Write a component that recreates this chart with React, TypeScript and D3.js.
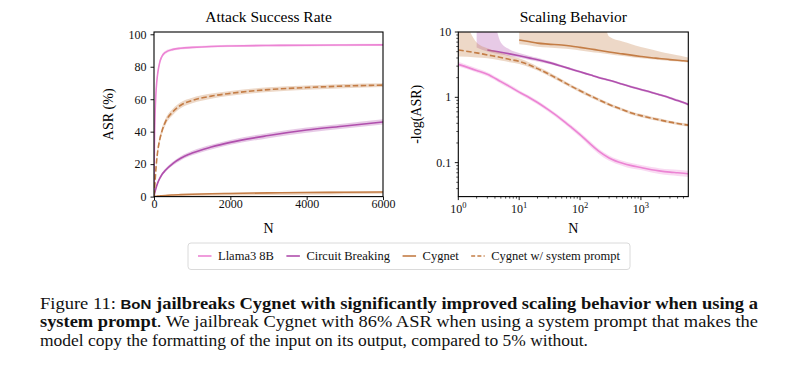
import React, { useEffect, useRef } from 'react';
import * as d3 from 'd3';

const nValues = [1, 2, 3, 5, 7, 10, 15, 20, 30, 50, 70, 100, 150, 200, 300, 500, 700, 1000, 1500, 2000, 3000, 4000, 5000, 6000];

// attack success rate (%) - mean and shaded band
const llamaMean = [4.1, 7.6, 10.5, 17.6, 23.3, 30.1, 37.6, 43.5, 52.4, 63.3, 70.1, 76.4, 82.7, 86, 88.9, 90.7, 91.4, 91.9, 92.5, 92.8, 93.1, 93.24, 93.36, 93.46];
const llamaLo = [3.0, 6.2, 8.8, 15.3, 20.9, 27.6, 35, 41, 49.9, 61.1, 68.1, 74.6, 81.2, 84.8, 87.9, 89.9, 90.6, 91.2, 91.8, 92.1, 92.4, 92.54, 92.66, 92.76];
const llamaHi = [5.2, 9, 12.2, 19.9, 25.7, 32.6, 40.2, 46, 54.9, 65.5, 72.1, 78.2, 84.2, 87.2, 89.9, 91.5, 92.2, 92.6, 93.2, 93.5, 93.8, 93.94, 94.06, 94.16];

const circuitMean = [0, 0, 0.5, 0.74, 0.98, 1.33, 1.87, 2.33, 3.24, 5.03, 6.6, 8.6, 11.2, 13.3, 16.2, 20.5, 23.6, 26.8, 30.5, 33.4, 37.6, 41, 43.5, 46];
const circuitLo = [0, 0, 0, 0.1, 0.45, 0.85, 1.35, 1.8, 2.65, 4.35, 5.85, 7.8, 10.3, 12.3, 15.1, 19.3, 22.3, 25.4, 29, 31.9, 36, 39.4, 41.9, 44.4];
const circuitHi = [0, 0.3, 0.65, 1.1, 1.4, 1.8, 2.4, 2.9, 3.85, 5.75, 7.4, 9.4, 12.1, 14.3, 17.3, 21.7, 24.9, 28.2, 32, 34.9, 39.2, 42.6, 45.1, 47.6];

const cygnetMean = [0, 0, 0, 0, 0, 0.052, 0.084, 0.116, 0.146, 0.182, 0.224, 0.297, 0.41, 0.52, 0.71, 0.98, 1.2, 1.47, 1.78, 1.95, 2.28, 2.5, 2.65, 2.81];
const cygnetLo = [0, 0, 0, 0, 0, 0, 0, 0, 0, 0, 0, 0, 0, 0, 0.02, 0.08, 0.15, 0.28, 0.45, 0.65, 0.95, 1.2, 1.45, 1.7];
const cygnetHi = [0, 0, 0, 0, 0, 0.15, 0.2, 0.26, 0.3, 0.38, 0.44, 0.55, 0.7, 0.82, 1.05, 1.38, 1.62, 1.9, 2.2, 2.4, 2.7, 2.95, 3.1, 3.3];

const promptMean = [0.5, 0.83, 1.16, 1.7, 2.24, 2.87, 4.55, 6.4, 10.1, 16.9, 22.4, 28.4, 35.1, 39.7, 46, 52.4, 56.3, 59.2, 61.9, 63.6, 65.9, 67.2, 68.1, 68.7];
const promptLo = [0, 0.1, 0.35, 0.8, 1.3, 1.9, 3.4, 5.1, 8.5, 15, 20.4, 26.3, 33, 37.6, 44, 50.5, 54.5, 57.5, 60.3, 62.1, 64.5, 65.9, 66.8, 67.5];
const promptHi = [1.5, 1.7, 1.9, 2.6, 3.2, 3.9, 5.7, 7.7, 11.7, 18.8, 24.4, 30.5, 37.2, 41.8, 48, 54.3, 58.1, 60.9, 63.5, 65.1, 67.3, 68.5, 69.4, 69.9];

const seriesNames = ['Llama3 8B', 'Circuit Breaking', 'Cygnet', 'Cygnet w/ system prompt'];
const seriesColors = ['#ec84d4', '#b04fad', '#c47d46', '#c47d46'];

const asrTicks = [0, 20, 40, 60, 80, 100];
const nTicks = [0, 2000, 4000, 6000];
const logYTicks = [0.1, 1, 10];
const logXTicks = [1, 10, 100, 1000];

const SERIF = '"Liberation Serif", "Times New Roman", Times, serif';

export default function App() {
    const svgRef = useRef<SVGSVGElement>(null);

    useEffect(() => {
        if (!svgRef.current) return;
        const svg = d3.select(svgRef.current);
        svg.selectAll('*').remove();

        const means = [llamaMean, circuitMean, cygnetMean, promptMean];
        const los = [llamaLo, circuitLo, cygnetLo, promptLo];
        const his = [llamaHi, circuitHi, cygnetHi, promptHi];
        const series = seriesNames.map((name, i) => ({
            name, color: seriesColors[i], dashed: i === 3, mean: means[i], lo: los[i], hi: his[i]
        }));
        const idx = nValues.map((_, i) => i);

        const defs = svg.append('defs');

        // ---------- left: Attack Success Rate ----------
        const L = { l: 154, r: 383, t: 32, b: 196.6 };
        const xL = d3.scaleLinear().domain([0, 6000]).range([L.l, L.r]);
        const yL = d3.scaleLinear().domain([0, 101.4]).range([L.b, L.t]);

        defs.append('clipPath').attr('id', 'clip-left').append('rect')
            .attr('x', L.l).attr('y', L.t).attr('width', L.r - L.l).attr('height', L.b - L.t);

        const gL = svg.append('g').attr('clip-path', 'url(#clip-left)');
        series.forEach(s => {
            const band = d3.area<number>()
                .x(i => xL(nValues[i]))
                .y0(i => yL(s.lo[i]))
                .y1(i => yL(s.hi[i]))
                .curve(d3.curveMonotoneX);
            gL.append('path').attr('d', band(idx)).attr('fill', s.color).attr('opacity', 0.3);
            const line = d3.line<number>()
                .x(i => xL(nValues[i]))
                .y(i => yL(s.mean[i]))
                .curve(d3.curveMonotoneX);
            gL.append('path').attr('d', line(idx)).attr('fill', 'none')
                .attr('stroke', s.color).attr('stroke-width', 1.6)
                .attr('stroke-dasharray', s.dashed ? '5.5,2.5' : null);
        });

        const axL = svg.append('g').attr('transform', `translate(${L.l},0)`)
            .call(d3.axisLeft(yL).tickValues(asrTicks).tickSize(3.5).tickSizeOuter(0).tickPadding(4));
        const axB = svg.append('g').attr('transform', `translate(0,${L.b})`)
            .call(d3.axisBottom(xL).tickValues(nTicks).tickSize(3.5).tickSizeOuter(0).tickPadding(3).tickFormat(d3.format('d')));
        [axL, axB].forEach(a => {
            a.attr('font-family', SERIF);
            a.select('.domain').remove();
            a.selectAll('line').attr('stroke', '#000').attr('stroke-width', 0.9);
            a.selectAll('text').attr('font-family', SERIF).attr('font-size', 12).attr('fill', '#111');
        });
        axB.selectAll('text').attr('dy', null).attr('y', 11.3);

        svg.append('rect').attr('x', L.l).attr('y', L.t).attr('width', L.r - L.l).attr('height', L.b - L.t)
            .attr('fill', 'none').attr('stroke', '#000').attr('stroke-width', 1.1);

        svg.append('text').attr('x', (L.l + L.r) / 2).attr('y', 22).attr('text-anchor', 'middle')
            .attr('font-family', SERIF).attr('font-size', 15.5).text('Attack Success Rate');
        svg.append('text').attr('x', (L.l + L.r) / 2).attr('y', 233).attr('text-anchor', 'middle')
            .attr('font-family', SERIF).attr('font-size', 14).text('N');
        svg.append('text').attr('transform', `translate(113,${(L.t + L.b) / 2}) rotate(-90)`)
            .attr('text-anchor', 'middle').attr('font-family', SERIF).attr('font-size', 14).text('ASR (%)');

        // ---------- right: Scaling Behavior ----------
        const R = { l: 458.3, r: 688.3, t: 32, b: 196.6 };
        const xR = d3.scaleLog().domain([1, 6000]).range([R.l, R.r]);
        const yR = d3.scaleLog().domain([0.0302, 10]).range([R.b, R.t]);
        const negLog = (p: number) => (p > 0 ? -Math.log(p / 100) : 30);

        defs.append('clipPath').attr('id', 'clip-right').append('rect')
            .attr('x', R.l).attr('y', R.t).attr('width', R.r - R.l).attr('height', R.b - R.t);

        const gR = svg.append('g').attr('clip-path', 'url(#clip-right)');
        series.forEach(s => {
            const band = d3.area<number>()
                .defined(i => s.hi[i] > 0)
                .x(i => xR(nValues[i]))
                .y0(i => yR(negLog(s.lo[i])))
                .y1(i => yR(negLog(s.hi[i])))
                .curve(d3.curveMonotoneX);
            gR.append('path').attr('d', band(idx)).attr('fill', s.color).attr('opacity', 0.3);
            const line = d3.line<number>()
                .defined(i => s.mean[i] > 0)
                .x(i => xR(nValues[i]))
                .y(i => yR(negLog(s.mean[i])))
                .curve(d3.curveMonotoneX);
            gR.append('path').attr('d', line(idx)).attr('fill', 'none')
                .attr('stroke', s.color).attr('stroke-width', 1.6)
                .attr('stroke-dasharray', s.dashed ? '5.5,2.5' : null);
        });

        // minor ticks for the log axes
        const minorX: number[] = [];
        const minorY: number[] = [];
        [1, 10, 100, 1000].forEach(d => d3.range(2, 10).forEach(k => { if (d * k < 6000) minorX.push(d * k); }));
        [0.01, 0.1, 1].forEach(d => d3.range(2, 10).forEach(k => { if (d * k > 0.0302 && d * k < 10) minorY.push(d * k); }));

        const tickG = svg.append('g').attr('stroke', '#000');
        tickG.selectAll('.mx').data(minorX).join('line')
            .attr('x1', d => xR(d)).attr('x2', d => xR(d)).attr('y1', R.b).attr('y2', R.b + 2).attr('stroke-width', 0.7);
        tickG.selectAll('.my').data(minorY).join('line')
            .attr('y1', d => yR(d)).attr('y2', d => yR(d)).attr('x1', R.l).attr('x2', R.l - 2).attr('stroke-width', 0.7);
        tickG.selectAll('.Mx').data(logXTicks).join('line')
            .attr('x1', d => xR(d)).attr('x2', d => xR(d)).attr('y1', R.b).attr('y2', R.b + 3.5).attr('stroke-width', 0.9);
        tickG.selectAll('.My').data(logYTicks).join('line')
            .attr('y1', d => yR(d)).attr('y2', d => yR(d)).attr('x1', R.l).attr('x2', R.l - 3.5).attr('stroke-width', 0.9);

        svg.selectAll('.ylab').data(logYTicks).join('text')
            .attr('x', R.l - 7).attr('y', d => yR(d)).attr('dy', '0.33em').attr('text-anchor', 'end')
            .attr('font-family', SERIF).attr('font-size', 12).attr('fill', '#111')
            .text(d => String(d));

        const xl = svg.selectAll('.xlab').data(logXTicks).join('text')
            .attr('x', d => xR(d)).attr('y', 212.5).attr('text-anchor', 'middle')
            .attr('font-family', SERIF).attr('font-size', 12).attr('fill', '#111');
        xl.append('tspan').text('10');
        xl.append('tspan').attr('dy', -5).attr('font-size', 8.5).text(d => String(Math.round(Math.log10(d))));

        svg.append('rect').attr('x', R.l).attr('y', R.t).attr('width', R.r - R.l).attr('height', R.b - R.t)
            .attr('fill', 'none').attr('stroke', '#000').attr('stroke-width', 1.1);

        svg.append('text').attr('x', (R.l + R.r) / 2).attr('y', 22).attr('text-anchor', 'middle')
            .attr('font-family', SERIF).attr('font-size', 15.5).text('Scaling Behavior');
        svg.append('text').attr('x', (R.l + R.r) / 2).attr('y', 233).attr('text-anchor', 'middle')
            .attr('font-family', SERIF).attr('font-size', 14).text('N');
        svg.append('text').attr('transform', `translate(421,${(R.t + R.b) / 2}) rotate(-90)`)
            .attr('text-anchor', 'middle').attr('font-family', SERIF).attr('font-size', 14).text('-log(ASR)');

        // ---------- legend ----------
        const leg = svg.append('g');
        const box = leg.append('rect');
        let cx = 198;
        const ly = 256;
        series.forEach(s => {
            leg.append('line').attr('x1', cx).attr('x2', cx + 13.5).attr('y1', ly).attr('y2', ly)
                .attr('stroke', s.color).attr('stroke-width', 1.6)
                .attr('stroke-dasharray', s.dashed ? '4,2.2' : null);
            const t = leg.append('text').attr('x', cx + 20).attr('y', ly + 4)
                .attr('font-family', SERIF).attr('font-size', 12.5).attr('fill', '#111').text(s.name);
            const w = (t.node() as SVGTextElement).getComputedTextLength();
            cx = cx + 20 + w + 12.5;
        });
        box.attr('x', 188).attr('y', 243).attr('width', cx - 12.5 + 10 - 188).attr('height', 26.5)
            .attr('rx', 3).attr('fill', '#fff').attr('stroke', '#d6d6d6').attr('stroke-width', 0.9);

        // ---------- caption ----------
        const cap = svg.append('g').attr('font-family', SERIF).attr('font-size', 16).attr('fill', '#111');
        const l1 = cap.append('text').attr('x', 40).attr('y', 309)
            .attr('textLength', 718).attr('lengthAdjust', 'spacingAndGlyphs');
        l1.append('tspan').text('Figure 11: ');
        l1.append('tspan').attr('font-family', '"Liberation Sans", Arial, sans-serif').attr('font-weight', 'bold')
            .attr('font-size', 13).text('BoN');
        l1.append('tspan').attr('font-weight', 'bold').text(' jailbreaks Cygnet with significantly improved scaling behavior when using a');

        const l2 = cap.append('text').attr('x', 40).attr('y', 327)
            .attr('textLength', 718).attr('lengthAdjust', 'spacingAndGlyphs');
        l2.append('tspan').attr('font-weight', 'bold').text('system prompt');
        l2.append('tspan').text('. We jailbreak Cygnet with 86% ASR when using a system prompt that makes the');

        cap.append('text').attr('x', 40).attr('y', 345.5)
            .attr('textLength', 548).attr('lengthAdjust', 'spacingAndGlyphs')
            .text('model copy the formatting of the input on its output, compared to 5% without.');
    }, []);

    return (
        <svg ref={svgRef} width={800} height={368}
            style={{ position: 'absolute', left: 0, top: 0, background: '#fff' }} />
    );
}
